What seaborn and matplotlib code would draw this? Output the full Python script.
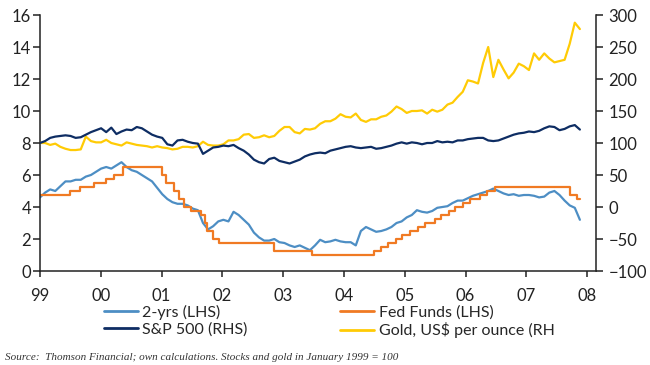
import numpy as np
import pandas as pd
import matplotlib
matplotlib.use("Agg")
import matplotlib.pyplot as plt
from matplotlib.lines import Line2D
import seaborn as sns

# monthly observations, Jan 1999 .. Nov 2007
n_obs = 107
dates = np.linspace(1999.0, 2007.88, n_obs)

two_yr = [
    4.6, 4.9, 5.1, 5.0, 5.3, 5.6, 5.6, 5.7, 5.7, 5.9, 6.0, 6.2,
    6.4, 6.5, 6.4, 6.6, 6.8, 6.5, 6.3, 6.2, 6.0, 5.8, 5.6, 5.2,
    4.8, 4.5, 4.3, 4.2, 4.2, 4.1, 3.9, 3.8, 3.0, 2.6, 2.8, 3.1,
    3.2, 3.1, 3.7, 3.5, 3.2, 2.9, 2.4, 2.1, 1.9, 1.9, 2.0, 1.8,
    1.75, 1.6, 1.5, 1.6, 1.45, 1.3, 1.6, 1.95, 1.8, 1.85, 1.95, 1.85,
    1.8, 1.8, 1.6, 2.5, 2.75, 2.6, 2.45, 2.5, 2.6, 2.75, 3.0, 3.1,
    3.35, 3.5, 3.8, 3.7, 3.65, 3.75, 3.95, 4.0, 4.05, 4.25, 4.4, 4.4,
    4.55, 4.7, 4.8, 4.9, 5.0, 5.15, 5.0, 4.85, 4.75, 4.8, 4.7, 4.75,
    4.75, 4.7, 4.6, 4.65, 4.9, 5.0, 4.75, 4.4, 4.1, 3.95, 3.2,
]

sp500 = [
    100, 103, 108, 110, 111, 112, 111, 108, 109, 113, 117, 120,
    123, 117, 124, 114, 118, 121, 120, 125, 123, 118, 113, 110,
    108, 98, 96, 104, 105, 102, 100, 99, 83, 88, 93, 94,
    96, 95, 97, 92, 88, 82, 74, 70, 68, 75, 77, 72,
    70, 68, 71, 74, 79, 82, 84, 85, 84, 88, 90, 92,
    94, 95, 93, 92, 93, 94, 91, 92, 94, 96, 99, 101,
    99, 101, 100, 98, 100, 100, 103, 101, 102, 101, 104, 104,
    106, 107, 108, 108, 104, 103, 104, 107, 110, 113, 115, 116,
    118, 117, 119, 123, 126, 125, 120, 122, 126, 128, 121,
]

gold = [
    100, 100, 97, 99, 94, 91, 89, 89, 90, 110, 103, 101,
    101, 105, 100, 98, 96, 101, 99, 97, 96, 95, 93, 95,
    93, 92, 90, 91, 94, 94, 93, 95, 102, 97, 96, 96,
    98, 104, 104, 106, 113, 114, 108, 109, 112, 109, 111, 119,
    125, 125, 117, 115, 122, 121, 123, 130, 134, 134, 138, 145,
    141, 140, 146, 136, 133, 137, 137, 141, 143, 149, 157, 153,
    147, 150, 150, 151, 146, 152, 149, 152, 160, 163, 172, 180,
    198, 196, 193, 225, 250, 203, 230, 215, 201, 210, 224, 220,
    214, 240, 230, 240, 232, 226, 228, 230, 255, 288, 278,
]

# Fed funds target: dates of change and new level
ff_dates = [
    1999.0, 1999.49, 1999.65, 1999.88, 2000.09, 2000.22, 2000.37,
    2001.01, 2001.08, 2001.21, 2001.29, 2001.37, 2001.49, 2001.64,
    2001.71, 2001.75, 2001.85, 2001.94, 2002.85, 2003.48,
    2004.49, 2004.61, 2004.72, 2004.86, 2004.95, 2005.09, 2005.22,
    2005.33, 2005.49, 2005.60, 2005.72, 2005.83, 2005.95, 2006.08,
    2006.24, 2006.36, 2006.49, 2007.71, 2007.83, 2007.88,
]
ff_rate = [
    4.75, 5.0, 5.25, 5.5, 5.75, 6.0, 6.5,
    6.0, 5.5, 5.0, 4.5, 4.0, 3.75, 3.5,
    3.0, 2.5, 2.0, 1.75, 1.25, 1.0,
    1.25, 1.5, 1.75, 2.0, 2.25, 2.5, 2.75,
    3.0, 3.25, 3.5, 3.75, 4.0, 4.25, 4.5,
    4.75, 5.0, 5.25, 4.75, 4.5, 4.5,
]

year_ticks = list(range(1999, 2009))
year_labels = ["99", "00", "01", "02", "03", "04", "05", "06", "07", "08"]

c_2yr = "#4d8ec4"
c_ff = "#f07a23"
c_sp = "#0e2d63"
c_gold = "#ffcb05"

sns.set_style("white")
plt.rcParams["font.family"] = ["Lato", "DejaVu Sans"]

df = pd.DataFrame({"date": dates, "two_yr": two_yr, "sp500": sp500, "gold": gold})
ff = pd.DataFrame({"date": ff_dates, "rate": ff_rate})

fig = plt.figure(figsize=(6.5, 3.65), dpi=100)
ax = fig.add_axes([40 / 650, 1 - 271 / 365, 556 / 650, 256 / 365])
ax2 = ax.twinx()

lw = 1.6
sns.lineplot(data=df, x="date", y="gold", ax=ax2, color=c_gold, lw=lw)
sns.lineplot(data=df, x="date", y="sp500", ax=ax2, color=c_sp, lw=lw)
sns.lineplot(data=df, x="date", y="two_yr", ax=ax, color=c_2yr, lw=lw)
sns.lineplot(data=ff, x="date", y="rate", ax=ax, color=c_ff, lw=lw,
             drawstyle="steps-post", estimator=None)

ax.set_xlim(1999.0, 2008.145)
ax.set_ylim(0, 16)
ax.set_yticks(range(0, 17, 2))
ax2.set_ylim(-100, 300)
ax2.set_yticks(range(-100, 301, 50))
ax.set_xticks(year_ticks)
ax.set_xticklabels(year_labels)
ax.set_xlabel("")
ax.set_ylabel("")
ax2.set_ylabel("")

for a in (ax, ax2):
    for s in a.spines.values():
        s.set_color("#222222")
        s.set_linewidth(1.1)
    a.spines["top"].set_visible(False)
ax.spines["right"].set_visible(False)
ax2.spines["left"].set_visible(False)
ax2.spines["bottom"].set_visible(False)

ax.tick_params(axis="y", direction="out", length=5, width=1.1, pad=1.5,
               labelsize=12, colors="#222222", left=True)
ax.tick_params(axis="x", direction="out", length=4, width=1.1, pad=8,
               labelsize=12, colors="#222222", bottom=True)
ax2.tick_params(axis="y", direction="out", length=5, width=1.1, pad=4,
                labelsize=12, colors="#222222", right=True)

handles = [
    Line2D([], [], color=c_2yr, lw=2),
    Line2D([], [], color=c_sp, lw=2),
    Line2D([], [], color=c_ff, lw=2),
    Line2D([], [], color=c_gold, lw=2),
]
labels = ["2-yrs (LHS)", "S&P 500 (RHS)", "Fed Funds (LHS)", "Gold, US$ per ounce (RH"]
fig.legend(handles, labels, loc="upper left", bbox_to_anchor=(104 / 650, 1 - 305 / 365),
           ncol=2, frameon=False, fontsize=11.5, handlelength=2.1,
           handletextpad=0.3, columnspacing=5.8, labelspacing=0.15,
           borderpad=0, borderaxespad=0)

fig.text(5 / 650, 1 - 353 / 365,
         "Source:  Thomson Financial; own calculations. Stocks and gold in January 1999 = 100",
         ha="left", va="top", fontsize=8, style="italic",
         family=["Liberation Serif", "DejaVu Serif"], color="#333333")

fig.savefig("out.png", dpi=100)
